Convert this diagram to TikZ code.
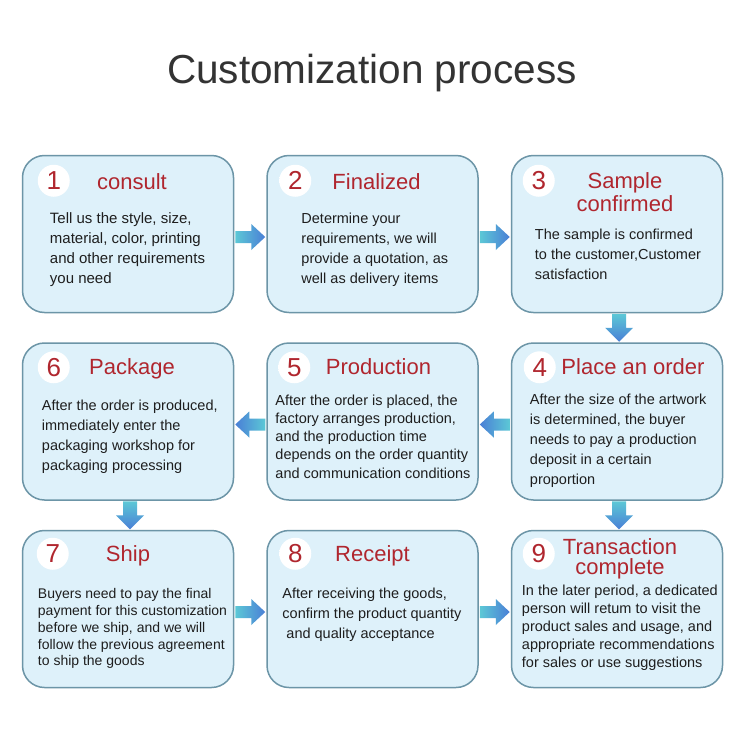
\documentclass[tikz,border=0pt]{standalone}
\usepackage{fontspec}
\setmainfont{Liberation Sans}
\usetikzlibrary{positioning,calc}
\definecolor{boxfill}{HTML}{DEF1FA}
\definecolor{boxline}{HTML}{6C95A7}
\definecolor{stepred}{HTML}{B0262E}
\definecolor{titlegray}{HTML}{333333}
\definecolor{bodytext}{HTML}{1E1E1E}
\definecolor{flowcyan}{HTML}{5CC8D6}
\definecolor{flowblue}{HTML}{4A7FD6}
\pgfdeclareradialshading{numshade}{\pgfpoint{3bp}{3bp}}{color(0bp)=(white); color(32bp)=(white); color(42bp)=(black!8); color(50bp)=(black!38); color(100bp)=(black!38)}
\tikzset{box/.style={rectangle,rounded corners=22pt,fill=boxfill,draw=boxline,line width=1.5pt,minimum width=211pt,minimum height=157pt,inner sep=0pt},
  num/.style={circle,minimum size=32pt,inner sep=0pt,shading=numshade,text=stepred,font=\fontsize{26}{26}\selectfont},
  head/.style={anchor=base,align=center,inner sep=0pt,text=stepred,font=\fontsize{22}{23.5}\selectfont},
  body/.style={anchor=base west,align=left,inner sep=0pt,text=bodytext,font=\fontsize{14.5}{20}\selectfont}}
% block arrows between two boxes
\newcommand{\rightflow}[2]{\shade[left color=flowcyan,right color=flowblue]
  ($(#1.east)!.5!(#2.west)+(0,3)$) +(-15,-6) -- +(1,-6) -- +(1,-13) -- +(15,0) -- +(1,13) -- +(1,6) -- +(-15,6) -- cycle;}
\newcommand{\leftflow}[2]{\shade[right color=flowcyan,left color=flowblue]
  ($(#1.west)!.5!(#2.east)+(0,3)$) +(15,-6) -- +(-1,-6) -- +(-1,-13) -- +(-15,0) -- +(-1,13) -- +(-1,6) -- +(15,6) -- cycle;}
\newcommand{\downflow}[2]{\shade[top color=flowcyan,bottom color=flowblue]
  ($(#1.south)!.5!(#2.north)+(2,0)$) +(-7,-14) -- +(7,-14) -- +(7,0) -- +(14,0) -- +(0,14) -- +(-14,0) -- +(-7,0) -- cycle;}

\begin{document}
\begin{tikzpicture}[x=1pt,y=-1pt]
  \useasboundingbox[fill=white] (0,0) rectangle (750,750);
  \node[anchor=base,text=titlegray,font=\fontsize{40.5}{48}\selectfont] (title) at (372,83) {Customization process};

  % the nine steps
  \node[box] (b1) at (128,234) {};
  \node[box] (b2) [right=32pt of b1] {};
  \node[box] (b3) [right=32pt of b2] {};
  \node[box] (b4) [below=29pt of b3] {};
  \node[box] (b5) [left=32pt of b4] {};
  \node[box] (b6) [left=32pt of b5] {};
  \node[box] (b7) [below=29pt of b6] {};
  \node[box] (b8) [right=32pt of b7] {};
  \node[box] (b9) [right=32pt of b8] {};

  \node[num] (n1) at ([shift={(32,26)}]b1.north west) {1};
  \node[num] (n2) at ([shift={(29,26)}]b2.north west) {2};
  \node[num] (n3) at ([shift={(28,26)}]b3.north west) {3};
  \node[num] (n4) at ([shift={(29,25)}]b4.north west) {4};
  \node[num] (n5) at ([shift={(28,25)}]b5.north west) {5};
  \node[num] (n6) at ([shift={(32,25)}]b6.north west) {6};
  \node[num] (n7) at ([shift={(31,24)}]b7.north west) {7};
  \node[num] (n8) at ([shift={(29,24)}]b8.north west) {8};
  \node[num] (n9) at ([shift={(28,24)}]b9.north west) {9};

  \node[head] (h1) at ([shift={(4,34.5)}]b1.north) {consult};
  \node[head] (h2) at ([shift={(4,34.5)}]b2.north) {Finalized};
  \node[head] (h3) at ([shift={(8,57)}]b3.north) {Sample\\confirmed};
  \node[head] (h4) at ([shift={(16,32.5)}]b4.north) {Place an order};
  \node[head] (h5) at ([shift={(6,32.5)}]b5.north) {Production};
  \node[head] (h6) at ([shift={(4,32.5)}]b6.north) {Package};
  \node[head] (h7) at ([shift={(0,31.5)}]b7.north) {Ship};
  \node[head] (h8) at ([shift={(0,31.5)}]b8.north) {Receipt};
  \node[head,font=\fontsize{22}{20}\selectfont] (h9) at ([shift={(3,44.5)}]b9.north) {Transaction\\complete};

  % texts sit on the baseline of their last line
  \node[body,font=\fontsize{15}{20}\selectfont] (t1) at ([shift={(28,129)}]b1.north west) {Tell us the style, size,\\material, color, printing\\and other requirements\\you need};
  \node[body] (t2) at ([shift={(35,129)}]b2.north west) {Determine your\\requirements, we will\\provide a quotation, as\\well as delivery items};
  \node[body] (t3) at ([shift={(24,125)}]b3.north west) {The sample is confirmed\\to the customer,Customer\\satisfaction};
  \node[body] (t4) at ([shift={(19,142)}]b4.north west) {After the size of the artwork\\is determined, the buyer\\needs to pay a production\\deposit in a certain\\proportion};
  \node[body,font=\fontsize{14.5}{18.2}\selectfont] (t5) at ([shift={(9,135.8)}]b5.north west) {After the order is placed, the\\factory arranges production,\\and the production time\\depends on the order quantity\\and communication conditions};
  \node[body] (t6) at ([shift={(20,128)}]b6.north west) {After the order is produced,\\immediately enter the\\packaging workshop for\\packaging processing};
  \node[body,font=\fontsize{14}{16.8}\selectfont] (t7) at ([shift={(16,136.2)}]b7.north west) {Buyers need to pay the final\\payment for this customization\\before we ship, and we will\\follow the previous agreement\\to ship the goods};
  \node[body] (t8) at ([shift={(16,109)}]b8.north west) {After receiving the goods,\\confirm the product quantity\\\hspace{4pt}and quality acceptance};
  \node[body,font=\fontsize{14.5}{18}\selectfont] (t9) at ([shift={(11,138)}]b9.north west) {In the later period, a dedicated\\person will retum to visit the\\product sales and usage, and\\appropriate recommendations\\for sales or use suggestions};

  % arrows
  \rightflow{b1}{b2}
  \rightflow{b2}{b3}
  \downflow{b3}{b4}
  \leftflow{b4}{b5}
  \leftflow{b5}{b6}
  \downflow{b6}{b7}
  \rightflow{b7}{b8}
  \rightflow{b8}{b9}
  \downflow{b4}{b9}
\end{tikzpicture}
\end{document}
